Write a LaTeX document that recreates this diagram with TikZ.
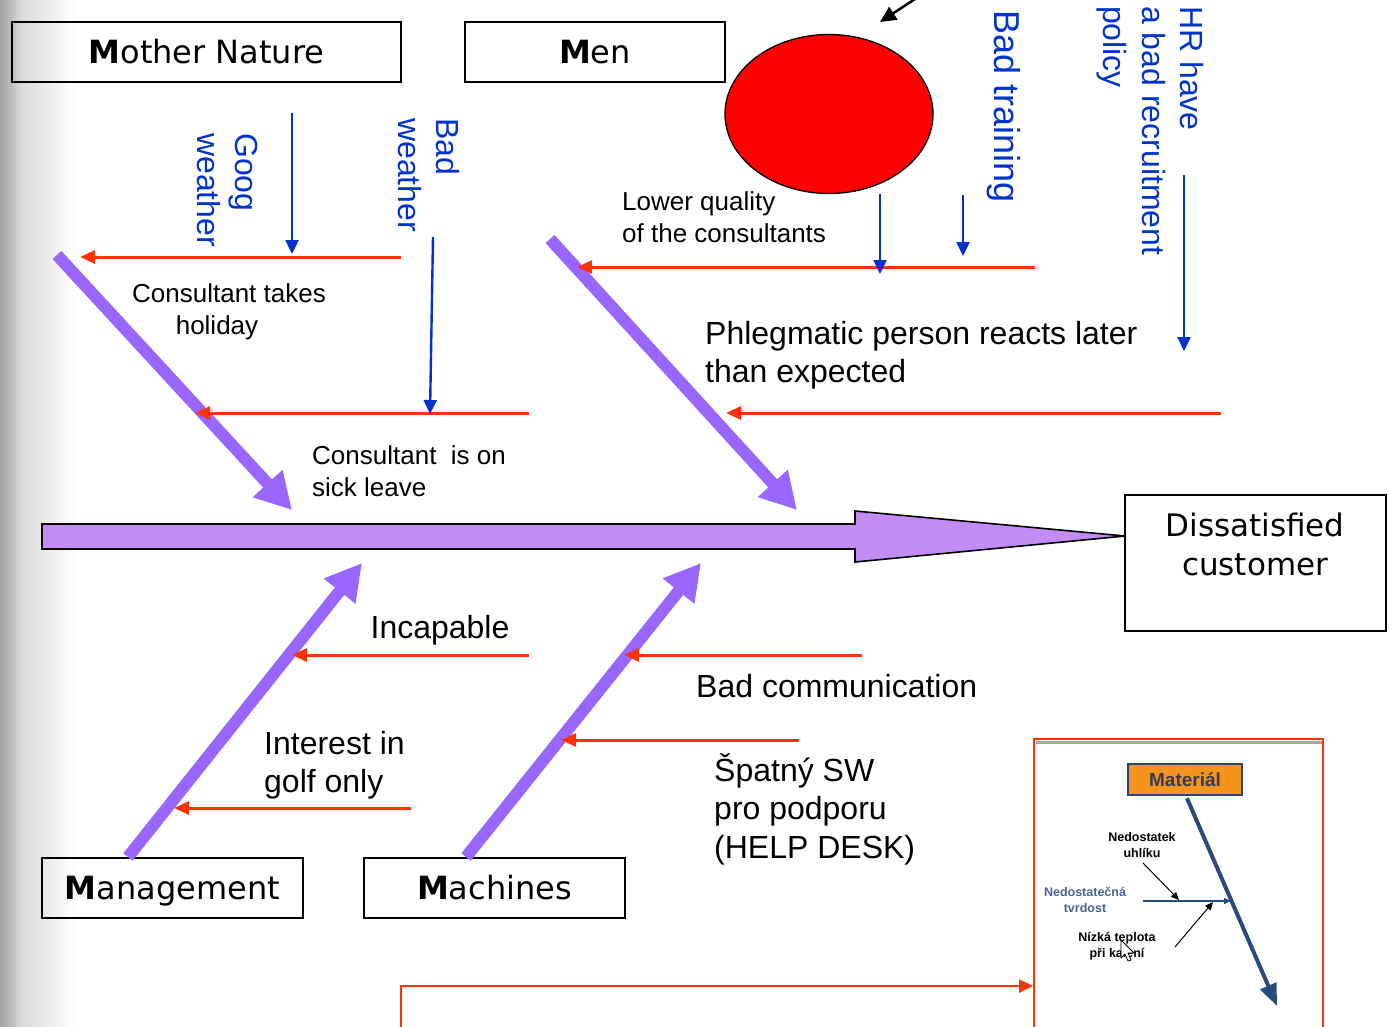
\documentclass[tikz,border=0pt]{standalone}
\usepackage{fontspec}
\setmainfont{Liberation Sans}
\newfontfamily\vfont{DejaVu Sans}
\usetikzlibrary{arrows.meta,shapes.geometric,calc}
\definecolor{spinec}{RGB}{195,140,245}
\definecolor{bonec}{RGB}{153,102,255}
\definecolor{redc}{RGB}{255,51,0}
\definecolor{bluec}{RGB}{0,51,204}
\definecolor{ballc}{RGB}{255,0,0}
\definecolor{matorange}{RGB}{247,148,30}
\definecolor{matborder}{RGB}{40,70,120}
\definecolor{mattext}{RGB}{50,60,90}
\definecolor{insetblue}{RGB}{40,75,125}
\definecolor{insettext}{RGB}{70,100,150}
\definecolor{g0}{gray}{0.63}
\definecolor{g1}{gray}{0.86}
\begin{document}
\begin{tikzpicture}[x=1pt,y=-1pt,
  catbox/.style={draw=black,line width=1.6pt,inner sep=0pt,text height=23pt,text depth=0pt,font=\vfont\fontsize{32}{38}\selectfont},
  bone/.style={draw=bonec,line width=12pt,-{Triangle[length=36pt,width=38pt]}},
  cause/.style={draw=redc,line width=3pt,-{Triangle[length=15pt,width=13pt]}},
  sub/.style={draw=bluec,line width=2.4pt,-{Triangle[length=14pt,width=13pt]}},
  txt/.style={font=\fontsize{32}{38.4}\selectfont,inner sep=0pt,align=left},
  stxt/.style={font=\fontsize{26}{32}\selectfont,inner sep=0pt,align=left},
  vtxt/.style={font=\fontsize{32}{38.4}\selectfont,text=bluec,rotate=-90,anchor=north west,inner sep=0pt,align=left},
  itxt/.style={font=\bfseries\fontsize{12.5}{15.5}\selectfont,inner sep=0pt,align=center},
]
\useasboundingbox (0,0) rectangle (1389,1026);
% background shadow at left edge
\shade[left color=g0,right color=g1] (0,0) rectangle (22,1026);
\shade[left color=g1,right color=white] (22,0) rectangle (76,1026);

% category boxes
\node[catbox,minimum width=389pt,minimum height=60pt] (mn) at (206.5,52) {\textbf{M}other Nature};
\node[catbox,minimum width=260pt,minimum height=60pt] (men) at (595,52) {\textbf{M}en};
\node[catbox,minimum width=261pt,minimum height=60pt] (mgmt) at (172.5,888) {\textbf{M}anagement};
\node[catbox,minimum width=261pt,minimum height=60pt] (mach) at (494.5,888) {\textbf{M}achines};

% main spine
\coordinate (tip) at (1125,536);
\draw[fill=spinec,line width=1.6pt,line join=miter] (42,524) -- (855,524) -- (855,511) -- (tip) -- (855,562) -- (855,549) -- (42,549) -- cycle;
\node[draw=black,line width=1.6pt,minimum width=261pt,minimum height=136pt,inner sep=0pt] (dc) at (1255.5,563) {};
\node[font=\vfont\fontsize{31}{39}\selectfont,align=center,inner sep=0pt] (dct) at (1255,544) {Dissatisfied\\customer};

% bones
\coordinate (b1s) at (57,255); \coordinate (b1e) at (292,510);
\coordinate (b2s) at (550,239); \coordinate (b2e) at (797,510);
\coordinate (b3s) at (128,857); \coordinate (b3e) at (362,563);
\coordinate (b4s) at (466,857); \coordinate (b4e) at (701,563);
\draw[bone] (b1s) -- (b1e);
\draw[bone] (b2s) -- (b2e);
\draw[bone] (b3s) -- (b3e);
\draw[bone] (b4s) -- (b4e);

% red cause lines
\coordinate (r1a) at (401,257); \coordinate (r1b) at (80,257);
\coordinate (r2a) at (529,413); \coordinate (r2b) at (195,413);
\coordinate (r3a) at (1035,267); \coordinate (r3b) at (577,267);
\coordinate (r4a) at (1221,413); \coordinate (r4b) at (726,413);
\coordinate (r5a) at (529,655); \coordinate (r5b) at (292,655);
\coordinate (r6a) at (862,655); \coordinate (r6b) at (624,655);
\coordinate (r7a) at (411,808); \coordinate (r7b) at (174,808);
\coordinate (r8a) at (799,740); \coordinate (r8b) at (561,740);
\foreach \i in {1,...,8} {\draw[cause] (r\i a) -- (r\i b);}

% red ball
\node[ellipse,draw=black,line width=1.3pt,fill=ballc,minimum width=208pt,minimum height=159pt,inner sep=0pt] (ball) at (829,114) {};
\coordinate (topa) at (915,-1); \coordinate (topb) at (880,22);
\draw[black,line width=2.5pt,-{Triangle[length=16pt,width=15pt]}] (topa) -- (topb);

% blue sub-causes
\coordinate (s1a) at (292,113); \coordinate (s1b) at (292,254);
\coordinate (s2a) at (433,237); \coordinate (s2b) at (430,414);
\coordinate (s3b) at (880,274);
\coordinate (s4a) at (963,195); \coordinate (s4b) at (963,256);
\coordinate (s5a) at (1184,175); \coordinate (s5b) at (1184,351);
\draw[sub] (s1a) -- (s1b);
\draw[sub] (s2a) -- (s2b);
\draw[sub] (ball.south -| s3b) -- (s3b);
\draw[sub] (s4a) -- (s4b);
\draw[sub] (s5a) -- (s5b);

% vertical blue texts
\node[vtxt] (t1) at (258,133) {Goog\\weather};
\node[vtxt] (t2) at (460,118) {Bad\\weather};
\node[vtxt,font=\fontsize{36}{43}\selectfont] (t3) at (1021,10) {Bad training};
\node[vtxt] (t4) at (1204,6) {HR have\\a bad recruitment\\policy};

% black texts
\node[stxt,align=center] (c1) at (229,312) {Consultant takes\\holiday\hspace*{24pt}};
\node[stxt,anchor=west] (c2) at (312,471) {Consultant\ \ is on\\sick leave};
\node[stxt,anchor=west] (c3) at (622,217) {Lower quality\\of the consultants};
\node[txt,anchor=west] (c4) at (705,355) {Phlegmatic person reacts later\\than expected};
\node[txt] (c5) at (440,630) {Incapable};
\node[txt,anchor=west] (c6) at (696,686) {Bad communication};
\node[txt,anchor=west] (c7) at (264,765) {Interest in\\golf only};
\node[txt,anchor=west] (c8) at (714,809) {Špatný SW\\pro podporu\\(HELP DESK)};

% inset picture
\draw[gray!70,line width=3pt] (1036,742) -- (1322,742);
\draw[redc,line width=2pt] (1034,1030) -- (1034,739) -- (1323,739) -- (1323,1030);
\node[draw=matborder,fill=matorange,line width=2.5pt,minimum width=114pt,minimum height=31pt,inner sep=0pt,font=\bfseries\fontsize{19}{22}\selectfont,text=mattext] (mat) at (1185,779.5) {Materiál};
\coordinate (matend) at (1277,1006);
\draw[insetblue,line width=4pt,-{Triangle[length=22pt,width=17pt]}] ($(mat.south)+(2,2)$) -- (matend);
\coordinate (h1) at (1143,901); \coordinate (h2) at (1231,901);
\draw[insetblue,line width=1.3pt,-{Triangle[length=7pt,width=6pt]}] (h1) -- (h2);
\coordinate (k1) at (1143,863); \coordinate (k2) at (1179,900);
\draw[black,line width=1pt,-{Triangle[length=8pt,width=7pt]}] (k1) -- (k2);
\coordinate (k3) at (1175,947); \coordinate (k4) at (1213,902);
\draw[black,line width=1pt,-{Triangle[length=8pt,width=7pt]}] (k3) -- (k4);
\node[itxt] (i1) at (1142,845) {Nedostatek\\uhlíku};
\node[itxt,text=insettext] (i2) at (1085,900) {Nedostatečná\\tvrdost};
\node[itxt] (i3) at (1117,946) {Nízká teplota\\při kalení};
% mouse cursor
\draw[fill=white,line width=0.8pt,line join=round] (1121,940) -- (1121,958) -- (1125,954) -- (1128,961) -- (1131,960) -- (1128,953) -- (1134,953) -- cycle;

% bottom connector into inset
\coordinate (q0) at (401,1030); \coordinate (q1) at (401,986); \coordinate (q2) at (1033,986);
\draw[redc,line width=2.5pt,-{Triangle[length=14pt,width=13pt]}] (q0) -- (q1) -- (q2);
\end{tikzpicture}
\end{document}
